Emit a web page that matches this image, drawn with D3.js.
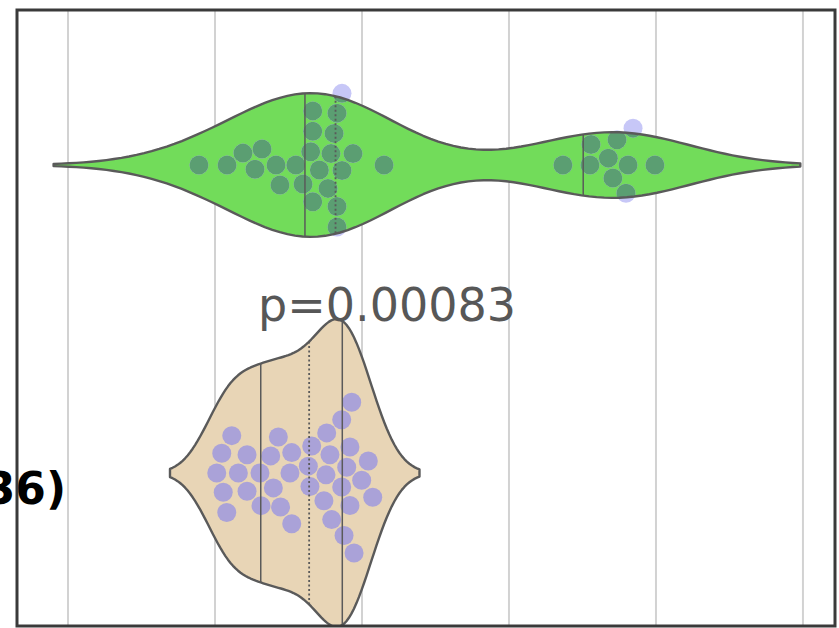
<!DOCTYPE html>
<html>
<head>
<meta charset="utf-8">
<script src="https://cdn.jsdelivr.net/npm/d3@7"></script>
<style>
  html, body { margin: 0; padding: 0; background: #ffffff; }
  svg { display: block; }
</style>
</head>
<body>
<svg id="chart" width="839" height="628"></svg>
<script>
// ---- data -------------------------------------------------------------
const groups = ["Green", "Tan"];

// observations of the upper group (two clusters)
const greenValues = [
  8.91, 10.82, 11.90, 12.72, 13.20, 14.15, 14.42, 15.50, 15.99,
  16.51, 16.65, 16.65, 16.65, 17.10, 17.69, 17.89, 18.10,
  18.30, 18.30, 18.30, 18.64, 18.64, 19.39, 21.50,
  33.67, 35.51, 35.58, 36.76, 37.07, 37.35, 37.96, 38.10, 38.44, 39.93
];

// observations of the lower group
const tanValues = [
  10.12, 10.46, 10.56, 10.80, 11.14, 11.59, 12.18, 12.18, 13.06, 13.13,
  13.79, 13.97, 14.31, 14.46, 15.10, 15.22, 15.22, 16.35, 16.46, 16.58,
  17.41, 17.55, 17.60, 17.82, 17.94, 18.62, 18.62, 18.78, 18.96, 19.18,
  19.18, 19.30, 19.46, 19.98, 20.43, 20.73
];

const xTicks = [0, 10, 20, 30, 40, 50];
const xLimits = [-3.47, 52.18];
const pValue = 0.00083;

// ---- layout -----------------------------------------------------------
const W = 839, H = 628;
const plot = { left: 17, right: 835, top: 10, bottom: 626 };

const svg = d3.select("#chart");
svg.append("rect").attr("width", W).attr("height", H).attr("fill", "#ffffff");

const x = d3.scaleLinear().domain(xLimits).range([plot.left, plot.right]);
const y = d3.scaleBand().domain(groups).range([plot.top + 1, plot.bottom + 1]).padding(0);

const defs = svg.append("defs");
defs.append("clipPath").attr("id", "plot-clip")
  .append("rect")
  .attr("x", plot.left).attr("y", plot.top)
  .attr("width", plot.right - plot.left).attr("height", plot.bottom - plot.top);

// ---- helpers ----------------------------------------------------------
// Gaussian KDE with Scott's bandwidth, support extended by two bandwidths
function kde(values, gridsize = 100, cut = 2) {
  const n = values.length;
  const bw = Math.pow(n, -0.2) * d3.deviation(values);
  const lo = d3.min(values) - cut * bw, hi = d3.max(values) + cut * bw;
  const norm = n * bw * Math.sqrt(2 * Math.PI);
  return d3.range(gridsize).map(i => {
    const g = lo + (hi - lo) * i / (gridsize - 1);
    return [g, d3.sum(values, v => Math.exp(-0.5 * ((g - v) / bw) ** 2)) / norm];
  });
}

function interpDensity(curve, v) {
  const i = d3.bisector(d => d[0]).left(curve, v);
  if (i <= 0) return curve[0][1];
  if (i >= curve.length) return curve[curve.length - 1][1];
  const [x0, d0] = curve[i - 1], [x1, d1] = curve[i];
  return d0 + (d1 - d0) * (v - x0) / (x1 - x0);
}

// Swarm layout in pixel space: each point (in value order) takes the most
// central free slot. When a slot above and one below are equally central,
// it follows the least-displaced neighbour; with no displaced neighbour it
// follows the side the swarm last grew on (above to begin with).
function beeswarm(px, r) {
  const pts = px.map((v, i) => ({ v, i })).sort((a, b) => a.v - b.v || a.i - b.i);
  const placed = [];
  const out = new Array(px.length);
  const sep2 = (2 * r) ** 2;
  let lastSide = -1;
  for (const p of pts) {
    const nb = [];
    for (let k = placed.length - 1; k >= 0; k--) {
      if (p.v - placed[k].v < 2 * r) nb.push(placed[k]); else break;
    }
    const cands = [0];
    let lowFirst = true;
    for (const q of nb) {
      const dv = p.v - q.v;
      const d = Math.sqrt(Math.max(sep2 - dv * dv, 0)) * 1.05;
      if (lowFirst) cands.push(q.o - d, q.o + d); else cands.push(q.o + d, q.o - d);
      lowFirst = !lowFirst;
    }
    const free = c => nb.every(q => (q.v - p.v) ** 2 + (q.o - c) ** 2 >= sep2 - 1e-6);
    const valid = cands.filter(free).sort((a, b) => Math.abs(a) - Math.abs(b));
    let chosen = valid.length ? valid[0] : 0;
    if (Math.abs(chosen) > 1e-9) {
      const twin = valid.find(c => Math.abs(Math.abs(c) - Math.abs(chosen)) < 1e-9 &&
                                   Math.sign(c) !== Math.sign(chosen));
      if (twin !== undefined) {
        let ref = null;
        for (const q of nb) {
          if (Math.abs(q.o) > 1e-9 && (ref === null || Math.abs(q.o) < Math.abs(ref.o))) ref = q;
        }
        const side = ref ? Math.sign(ref.o) : lastSide;
        chosen = Math.sign(chosen) === side ? chosen : twin;
      }
    }
    if (Math.abs(chosen) > 1e-9) lastSide = Math.sign(chosen);
    p.o = chosen;
    placed.push(p);
    out[p.i] = chosen;
  }
  return out;
}

// ---- grid -------------------------------------------------------------
svg.append("g").selectAll("line").data(xTicks).join("line")
  .attr("x1", d => x(d)).attr("x2", d => x(d))
  .attr("y1", plot.top).attr("y2", plot.bottom)
  .attr("stroke", "#d2d2d2").attr("stroke-width", 2);

// ---- sample size note (runs off the left edge) -------------------------
svg.append("text")
  .attr("x", 66).attr("y", 504)
  .attr("text-anchor", "end")
  .attr("font-family", "DejaVu Sans, sans-serif")
  .attr("font-weight", "bold")
  .attr("font-size", 44)
  .attr("fill", "#000000")
  .text(`(n=${tanValues.length})`);

// ---- violins ----------------------------------------------------------
const curves = { Green: kde(greenValues), Tan: kde(tanValues) };
const maxDensity = d3.max(Object.values(curves), c => d3.max(c, d => d[1]));
const halfWidth = d3.scaleLinear().domain([0, maxDensity]).range([0, y.bandwidth() * 0.5]);

const styles = {
  Green: { fill: "#72dc5a", dotOut: "#c7c7f7", dotIn: "#5b9e72" },
  Tan:   { fill: "#e8d5b6", dotOut: "#aaa2d8", dotIn: "#aaa2d8" }
};
const outline = "#5a5a5a";
const dotR = 9.5, swarmR = 9.75;

const plotG = svg.append("g").attr("clip-path", "url(#plot-clip)");
const dataByGroup = { Green: greenValues, Tan: tanValues };

groups.forEach((g, gi) => {
  const cy = y(g) + y.bandwidth() / 2;
  const curve = curves[g];
  const area = d3.area()
    .x(d => x(d[0]))
    .y0(d => cy - halfWidth(d[1]))
    .y1(d => cy + halfWidth(d[1]));
  const pathD = area(curve);

  const grp = plotG.append("g");
  grp.append("path").attr("d", pathD).attr("fill", styles[g].fill).attr("stroke", "none");

  const vals = dataByGroup[g];
  const px = vals.map(v => x(v));
  const offs = beeswarm(px, swarmR);
  const pts = vals.map((v, i) => ({ cx: px[i], cy: cy + offs[i] }));

  grp.append("g").selectAll("circle").data(pts).join("circle")
    .attr("cx", d => d.cx).attr("cy", d => d.cy).attr("r", dotR)
    .attr("fill", styles[g].dotOut);

  if (styles[g].dotIn !== styles[g].dotOut) {
    const clipId = `violin-clip-${gi}`;
    defs.append("clipPath").attr("id", clipId).append("path").attr("d", pathD);
    grp.append("g").attr("clip-path", `url(#${clipId})`)
      .selectAll("circle").data(pts).join("circle")
      .attr("cx", d => d.cx).attr("cy", d => d.cy).attr("r", dotR)
      .attr("fill", styles[g].dotIn);
  }

  grp.append("path").attr("d", pathD)
    .attr("fill", "none").attr("stroke", outline).attr("stroke-width", 2.4)
    .attr("stroke-linejoin", "round");

  // quartile lines
  const sorted = vals.slice().sort(d3.ascending);
  const qs = [0.25, 0.5, 0.75].map(p => d3.quantile(sorted, p));
  grp.append("g").selectAll("line").data(qs).join("line")
    .attr("x1", d => x(d)).attr("x2", d => x(d))
    .attr("y1", d => cy - halfWidth(interpDensity(curve, d)))
    .attr("y2", d => cy + halfWidth(interpDensity(curve, d)))
    .attr("stroke", outline)
    .attr("stroke-width", (d, i) => i === 1 ? 1.8 : 1.5)
    .attr("stroke-dasharray", (d, i) => i === 1 ? "2,2.5" : null);
});

// ---- p-value annotation ----------------------------------------------
svg.append("text")
  .attr("x", 387).attr("y", 321)
  .attr("text-anchor", "middle")
  .attr("font-family", "DejaVu Sans, sans-serif")
  .attr("font-size", 46)
  .attr("fill", "#575757")
  .text(`p=${pValue}`);

// ---- frame ------------------------------------------------------------
svg.append("rect")
  .attr("x", plot.left).attr("y", plot.top)
  .attr("width", plot.right - plot.left).attr("height", plot.bottom - plot.top)
  .attr("fill", "none").attr("stroke", "#3a3a3a").attr("stroke-width", 3);
</script>
</body>
</html>
